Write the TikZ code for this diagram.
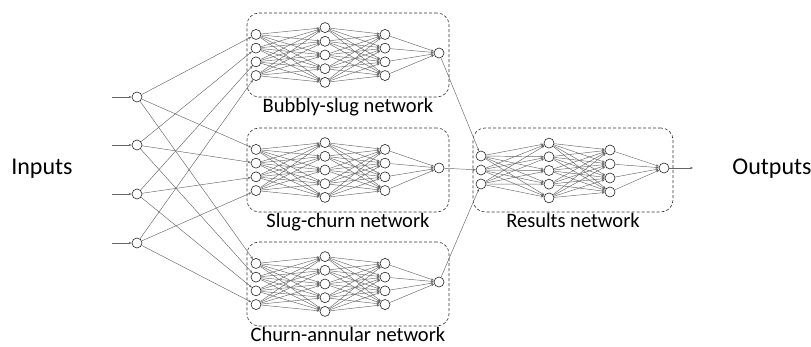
\documentclass[tikz,border=0pt]{standalone}
\usepackage{fontspec}
\setmainfont{Carlito}
\usetikzlibrary{positioning,arrows.meta}

% one sub-network: #1 name, #2 centre y, #3 label
\newcommand{\phasenet}[3]{%
  \node[netbox, minimum width=202pt, minimum height=84pt] (#1) at (348,#2) {};
  \node[netlabel, below=0.5pt of #1] {#3};
  \foreach \i in {1,...,4} \node[neuron] (#1-a\i) at (256,{#2+(\i-2.5)*13.7}) {};
  \foreach \i in {1,...,5} \node[neuron] (#1-b\i) at (325,{#2+(\i-3)*13.7}) {};
  \foreach \i in {1,...,4} \node[neuron] (#1-c\i) at (385,{#2+(\i-2.5)*13.7}) {};
  \node[neuron] (#1-o) at (439,#2-2) {};
  \foreach \i in {1,...,4} \foreach \j in {1,...,5} \draw[link] (#1-a\i) -- (#1-b\j);
  \foreach \i in {1,...,5} \foreach \j in {1,...,4} \draw[link] (#1-b\i) -- (#1-c\j);
  \foreach \i in {1,...,4} \draw[link] (#1-c\i) -- (#1-o);
}

\begin{document}
\begin{tikzpicture}[x=1pt, y=-1pt]
\tikzset{
  neuron/.style = {circle, draw=black!85, line width=0.6pt, minimum size=10pt, inner sep=0pt},
  netbox/.style = {draw=black!80, densely dashed, line width=0.6pt, rounded corners=12pt},
  netlabel/.style = {font=\fontsize{20.5}{24}\selectfont, inner sep=0.5pt},
  sidelabel/.style = {font=\fontsize{24}{28}\selectfont},
  link/.style = {draw=black!60, line width=0.45pt, -{Stealth[length=3pt, width=2.4pt]}},
}
\useasboundingbox (0,0) rectangle (811,347);

  \node[sidelabel] (inputs) at (42,169) {Inputs};
  \node[sidelabel] (outputs) at (772,169) {Outputs};

  % input layer
  \foreach \i/\y in {1/97, 2/145, 3/194, 4/243} {
    \coordinate (in\i-s) at (112,\y);
    \node[neuron] (in\i) at (137,\y) {};
    \draw[link] (in\i-s) -- (in\i);
  }

  \phasenet{bs}{55}{Bubbly-slug network}
  \phasenet{sc}{170}{Slug-churn network}
  \phasenet{ca}{284}{Churn-annular network}

  % results network
  \node[netbox, minimum width=200pt, minimum height=84pt] (res) at (573,170) {};
  \node[netlabel, below=0.5pt of res] {Results network};
  \foreach \i in {1,...,3} \node[neuron] (res-a\i) at (481,{170+(\i-2)*14}) {};
  \foreach \i in {1,...,5} \node[neuron] (res-b\i) at (549,{170.5+(\i-3)*13.7}) {};
  \foreach \i in {1,...,4} \node[neuron] (res-c\i) at (610,{171+(\i-2.5)*14}) {};
  \node[neuron] (res-o) at (664,168) {};
  \coordinate (res-end) at (693,168);
  \foreach \i in {1,...,3} \foreach \j in {1,...,5} \draw[link] (res-a\i) -- (res-b\j);
  \foreach \i in {1,...,5} \foreach \j in {1,...,4} \draw[link] (res-b\i) -- (res-c\j);
  \foreach \i in {1,...,4} \draw[link] (res-c\i) -- (res-o);
  \draw[link] (res-o) -- (res-end);

  % inputs to every sub-network
  \foreach \n in {bs, sc, ca}
    \foreach \i in {1,...,4} \draw[link] (in\i) -- (\n-a\i);

  % sub-networks to results network
  \draw[link] (bs-o) -- (res-a1);
  \draw[link] (sc-o) -- (res-a2);
  \draw[link] (ca-o) -- (res-a3);

\end{tikzpicture}
\end{document}
